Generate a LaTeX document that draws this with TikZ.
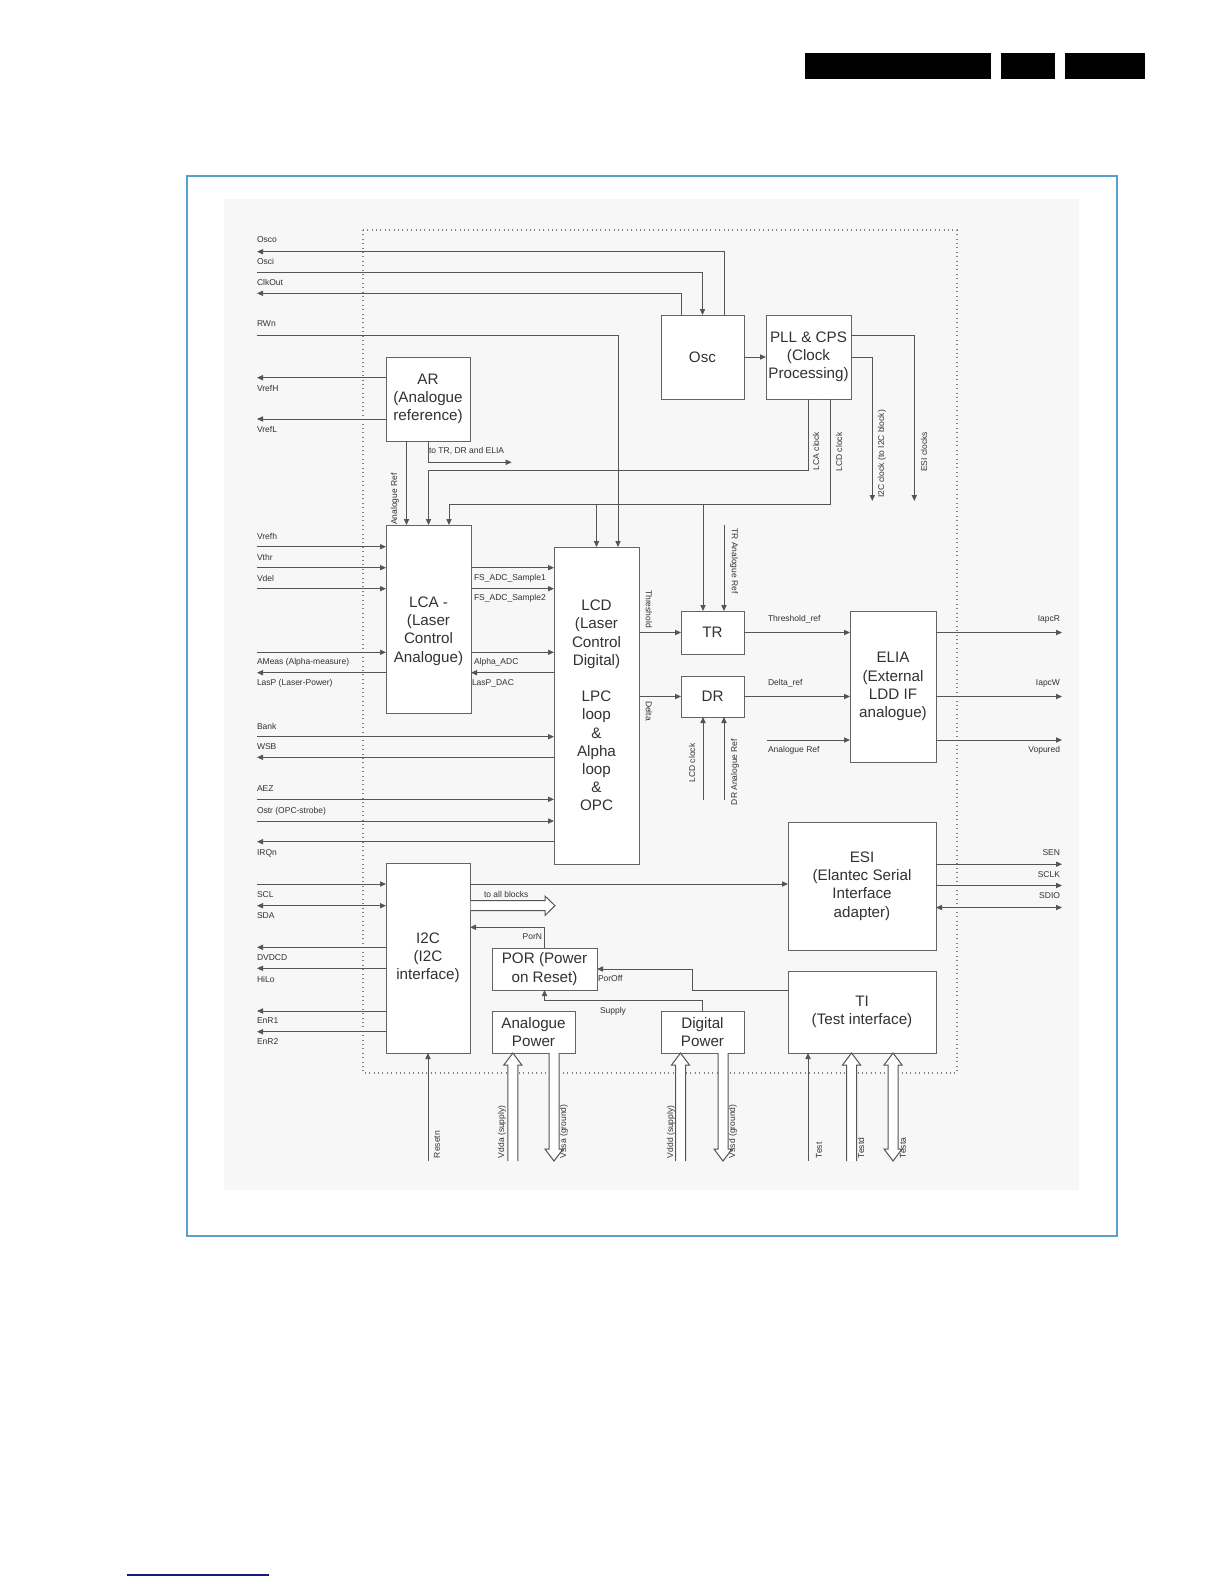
\documentclass[tikz,border=0pt]{standalone}
\usepackage{fontspec}
\setmainfont{Liberation Sans}
\usetikzlibrary{arrows.meta,calc}
\definecolor{ln}{RGB}{85,85,85}
\definecolor{bx}{RGB}{100,100,100}
\definecolor{tx}{RGB}{50,50,50}
\definecolor{framec}{RGB}{90,160,205}
\definecolor{panel}{RGB}{247,247,247}
\definecolor{navy}{RGB}{25,25,120}
\newcommand{\hup}[3]{\draw[hol] (#1-5,#3) -- (#1-5,#2+12) -- (#1-9,#2+12) -- (#1,#2) -- (#1+9,#2+12) -- (#1+5,#2+12) -- (#1+5,#3);}
\newcommand{\hdown}[3]{\draw[hol] (#1-5,#2) -- (#1-5,#3-12) -- (#1-9,#3-12) -- (#1,#3) -- (#1+9,#3-12) -- (#1+5,#3-12) -- (#1+5,#2);}
\newcommand{\hboth}[3]{\draw[hol] (#1-5,#2+12) -- (#1-9,#2+12) -- (#1,#2) -- (#1+9,#2+12) -- (#1+5,#2+12) -- (#1+5,#3-12) -- (#1+9,#3-12) -- (#1,#3) -- (#1-9,#3-12) -- (#1-5,#3-12) -- cycle;}
\begin{document}
\begin{tikzpicture}[x=0.5pt,y=-0.5pt, line width=0.5pt,
  box/.style={draw=bx, line width=0.5pt, fill=white, inner sep=0pt, outer sep=0pt, align=center, text=tx, font=\fontsize{7.6}{9.1}\selectfont},
  boxtxt/.style={inner sep=0pt, outer sep=0pt, align=center, text=tx, font=\fontsize{7.6}{9.1}\selectfont},
  lbl/.style={font=\fontsize{4.25}{5}\selectfont, text=tx, inner sep=0pt, outer sep=0pt},
  arr/.style={draw=ln, -{Triangle[length=3pt,width=2.6pt]}},
  darr/.style={draw=ln, {Triangle[length=3pt,width=2.6pt]}-{Triangle[length=3pt,width=2.6pt]}},
  hol/.style={draw=ln, line width=0.5pt, fill=white}]
\useasboundingbox (0,0) rectangle (1224,1584);
\fill[white] (0,0) rectangle (1224,1584);
% header bars
\fill[black] (805,53) rectangle (991,79);
\fill[black] (1001,53) rectangle (1055,79);
\fill[black] (1065,53) rectangle (1145,79);
\draw[navy, line width=1pt] (127,1575) -- (269,1575);
% frame and panel
\draw[framec, line width=0.6pt] (187,176) rectangle (1117,1236);
\fill[panel] (224,199) rectangle (1079,1190);
\draw[gray, line width=0.7pt, dash pattern=on 0.5pt off 1.7pt] (363,230) rectangle (957,1073);

% boxes
\node[box, minimum width=42pt, minimum height=42pt] (ar) at (428,399) {AR\\(Analogue\\reference)};
\node[box, minimum width=41.5pt, minimum height=42pt] (osc) at (702.5,357) {Osc};
\node[box, minimum width=42.5pt, minimum height=42pt] (pll) at (808.5,357) {PLL \& CPS\\(Clock\\Processing)};
\node[box, minimum width=42.5pt, minimum height=94pt] (lca) at (428.5,619) {};
\node[boxtxt] (lcatxt) at ($(lca.center)+(0,12)$) {LCA -\\(Laser\\Control\\Analogue)};
\node[box, minimum width=42.5pt, minimum height=158.5pt] (lcd) at (596.5,705.5) {LCD\\(Laser\\Control\\Digital)\\[9.1pt]LPC\\loop\\\&\\Alpha\\loop\\\&\\OPC};
\node[box, minimum width=31.5pt, minimum height=21.5pt] (tr) at (712.5,632.5) {TR};
\node[box, minimum width=31.5pt, minimum height=20.5pt] (dr) at (712.5,696.5) {DR};
\node[box, minimum width=43pt, minimum height=75.5pt] (elia) at (893,686.5) {ELIA\\(External\\LDD IF\\analogue)};
\node[box, minimum width=74pt, minimum height=64pt] (esi) at (862,886) {ESI\\(Elantec Serial\\Interface\\adapter)};
\node[box, minimum width=74pt, minimum height=41pt] (ti) at (862,1012) {TI\\(Test interface)};
\node[box, minimum width=42pt, minimum height=95pt] (i2c) at (428,958) {I2C\\(I2C\\interface)};
\node[box, minimum width=52.5pt, minimum height=21pt] (por) at (544.5,969) {POR (Power\\on Reset)};
\node[box, minimum width=41.5pt, minimum height=21pt] (apow) at (533.5,1032) {Analogue\\Power};
\node[box, minimum width=41.5pt, minimum height=21pt] (dpow) at (702.5,1032) {Digital\\Power};

% free ends
\coordinate (osco) at (257,251.7);
\coordinate (osci) at (257,272.3);
\coordinate (clkout) at (257,293.3);
\coordinate (rwn) at (257,335.7);
\coordinate (vrefH) at (257,377.7);
\coordinate (vrefL) at (257,419);
\coordinate (toTR) at (511.7,462.3);
\coordinate (esiclk) at (914.3,501);
\coordinate (i2cclk) at (872.3,501);
\coordinate (lcdbus) at (0,504.3);
\coordinate (vrefh) at (257,546.7);
\coordinate (vthr) at (257,567.7);
\coordinate (vdel) at (257,588.7);
\coordinate (ameas) at (257,652.3);
\coordinate (lasp) at (257,672.7);
\coordinate (bank) at (257,736.7);
\coordinate (wsb) at (257,757.3);
\coordinate (aez) at (257,799.3);
\coordinate (ostr) at (257,821);
\coordinate (irqn) at (257,841.7);
\coordinate (scl) at (257,884);
\coordinate (sda) at (257,905.7);
\coordinate (dvdcd) at (257,947.3);
\coordinate (hilo) at (257,968.3);
\coordinate (enr1) at (257,1011);
\coordinate (enr2) at (257,1031.7);
\coordinate (arefE) at (767,740);
\coordinate (iapcR) at (1062,632.5);
\coordinate (iapcW) at (1062,696.5);
\coordinate (vopu) at (1062,740);
\coordinate (sen) at (1062,864.2);
\coordinate (sclk) at (1062,885.5);
\coordinate (sdio) at (1062,907.5);
\coordinate (porNy) at (0,927.3);
\coordinate (porOffY) at (0,990);
\coordinate (trL) at ($(tr.north)+(-9.5,0)$);
\coordinate (trR) at ($(tr.north)+(11.5,0)$);
\coordinate (drL) at ($(dr.south)+(-9.5,0)$);
\coordinate (drR) at ($(dr.south)+(11.5,0)$);
\coordinate (lcaR) at ($(lca.north)+(20.5,0)$);
\coordinate (arRef) at ($(ar.south)+(-21.5,0)$);
\coordinate (resetn) at ($(i2c.south)+(0,108)$);
\coordinate (testp) at (808,1161);

% top lines
\draw[arr] (osc.north) ++(21.5,0) |- (osco);
\draw[arr] (osci) -| (osc.north);
\draw[arr] (osc.north) ++(-21.5,0) |- (clkout);
\draw[arr] (rwn) -| ($(lcd.north)+(21.5,0)$);
\draw[arr] (osc) -- (pll);
\draw[arr] ($(pll.east)+(0,-21.3)$) -| (esiclk);
\draw[arr] (pll.east) -| (i2cclk);
\draw[arr] (pll.south) -- ++(0,71.7) -| (lca.north);
\draw[arr] ($(pll.south)+(21.5,0)$) |- (lcaR |- lcdbus) -- (lcaR);
\draw[arr] (lcd.north |- lcdbus) -- (lcd.north);
\draw[arr] (trL |- lcdbus) -- (trL);
\draw[arr] ($(trR)+(0,-86)$) -- (trR);
\draw[arr] ($(drL)+(0,83)$) -- (drL);
\draw[arr] ($(drR)+(0,83)$) -- (drR);

% AR
\draw[arr] (ar.west |- vrefH) -- (vrefH);
\draw[arr] (ar.west |- vrefL) -- (vrefL);
\draw[arr] (arRef) -- (arRef |- lca.north);
\draw[arr] (ar.south) -- ++(0,21.3) -- (toTR);

% LCA
\draw[arr] (vrefh) -- (vrefh -| lca.west);
\draw[arr] (vthr) -- (vthr -| lca.west);
\draw[arr] (vdel) -- (vdel -| lca.west);
\draw[arr] (lca.east |- vthr) -- (lcd.west |- vthr);
\draw[arr] (lca.east |- vdel) -- (lcd.west |- vdel);
\draw[arr] (ameas) -- (ameas -| lca.west);
\draw[arr] (lca.east |- ameas) -- (lcd.west |- ameas);
\draw[arr] (lca.west |- lasp) -- (lasp);
\draw[arr] (lcd.west |- lasp) -- (lca.east |- lasp);

% LCD left
\draw[arr] (bank) -- (bank -| lcd.west);
\draw[arr] (lcd.west |- wsb) -- (wsb);
\draw[arr] (aez) -- (aez -| lcd.west);
\draw[arr] (ostr) -- (ostr -| lcd.west);
\draw[arr] (lcd.west |- irqn) -- (irqn);

% TR / DR / ELIA
\draw[arr] (lcd.east |- tr.west) -- (tr.west);
\draw[arr] (lcd.east |- dr.west) -- (dr.west);
\draw[arr] (tr.east) -- (tr.east -| elia.west);
\draw[arr] (dr.east) -- (dr.east -| elia.west);
\draw[arr] (arefE) -- (arefE -| elia.west);
\draw[arr] (elia.east |- iapcR) -- (iapcR);
\draw[arr] (elia.east |- iapcW) -- (iapcW);
\draw[arr] (elia.east |- vopu) -- (vopu);

% I2C
\draw[arr] (scl) -- (scl -| i2c.west);
\draw[darr] (sda) -- (sda -| i2c.west);
\draw[arr] (i2c.west |- dvdcd) -- (dvdcd);
\draw[arr] (i2c.west |- hilo) -- (hilo);
\draw[arr] (i2c.west |- enr1) -- (enr1);
\draw[arr] (i2c.west |- enr2) -- (enr2);
\draw[arr] (i2c.east |- scl) -- (esi.west |- scl);
\draw[hol] (470.5,900.7) -- (545,900.7) -- (545,896) -- (555,905.7) -- (545,915.4) -- (545,910.7) -- (470.5,910.7);
\draw[arr] (por.north) |- (i2c.east |- porNy);
\draw[arr] (ti.west |- porOffY) -- ++(-95.7,0) |- (por.east);
\draw[arr] (dpow.north) -- ++(0,-11) -| (por.south);

% ESI
\draw[arr] (esi.east |- sen) -- (sen);
\draw[arr] (esi.east |- sclk) -- (sclk);
\draw[darr] (esi.east |- sdio) -- (sdio);

% bottom
\draw[arr] (resetn) -- (i2c.south);
\draw[arr] (testp) -- (testp |- ti.south);
\hup{512.8}{1053}{1161}
\hdown{554}{1053}{1161}
\hup{680.5}{1053}{1161}
\hdown{723}{1053}{1161}
\hup{851.5}{1053}{1161}
\hboth{893}{1053}{1161}

% labels left
\node[lbl, anchor=west] at (257,240) {Osco};
\node[lbl, anchor=west] at (257,261) {Osci};
\node[lbl, anchor=west] at (257,282) {ClkOut};
\node[lbl, anchor=west] at (257,324) {RWn};
\node[lbl, anchor=west] at (257,388) {VrefH};
\node[lbl, anchor=west] at (257,429) {VrefL};
\node[lbl, anchor=west] at (257,536) {Vrefh};
\node[lbl, anchor=west] at (257,557) {Vthr};
\node[lbl, anchor=west] at (257,578) {Vdel};
\node[lbl, anchor=west] at (257,662) {AMeas (Alpha-measure)};
\node[lbl, anchor=west] at (257,683) {LasP (Laser-Power)};
\node[lbl, anchor=west] at (257,726) {Bank};
\node[lbl, anchor=west] at (257,747) {WSB};
\node[lbl, anchor=west] at (257,789) {AEZ};
\node[lbl, anchor=west] at (257,811) {Ostr (OPC-strobe)};
\node[lbl, anchor=west] at (257,853) {IRQn};
\node[lbl, anchor=west] at (257,895) {SCL};
\node[lbl, anchor=west] at (257,916) {SDA};
\node[lbl, anchor=west] at (257,958) {DVDCD};
\node[lbl, anchor=west] at (257,979) {HiLo};
\node[lbl, anchor=west] at (257,1021) {EnR1};
\node[lbl, anchor=west] at (257,1042) {EnR2};

% labels inner
\node[lbl, anchor=west] at (429,451) {to TR, DR and ELIA};
\node[lbl, rotate=90] at (395,499) {Analogue Ref};
\node[lbl, rotate=90] at (816,451) {LCA clock};
\node[lbl, rotate=90] at (839,452) {LCD clock};
\node[lbl, rotate=90] at (882,454) {I2C clock (to I2C block)};
\node[lbl, rotate=90] at (924,452) {ESI clocks};
\node[lbl, anchor=west] at (474,578) {FS\_ADC\_Sample1};
\node[lbl, anchor=west] at (474,598) {FS\_ADC\_Sample2};
\node[lbl, anchor=west] at (474,662) {Alpha\_ADC};
\node[lbl, anchor=west] at (472,683) {LasP\_DAC};
\node[lbl, rotate=-90] at (649,609) {Threshold};
\node[lbl, rotate=-90] at (649,711) {Delta};
\node[lbl, rotate=-90] at (734,561) {TR Analogue Ref};
\node[lbl, rotate=90] at (692,763) {LCD clock};
\node[lbl, rotate=90] at (735,772) {DR Analogue Ref};
\node[lbl, anchor=west] at (768,619) {Threshold\_ref};
\node[lbl, anchor=west] at (768,683) {Delta\_ref};
\node[lbl, anchor=west] at (768,750) {Analogue Ref};
\node[lbl, anchor=east] at (1060,619) {IapcR};
\node[lbl, anchor=east] at (1060,683) {IapcW};
\node[lbl, anchor=east] at (1060,750) {Vopured};
\node[lbl, anchor=east] at (1060,853) {SEN};
\node[lbl, anchor=east] at (1060,874.5) {SCLK};
\node[lbl, anchor=east] at (1060,896) {SDIO};
\node[lbl, anchor=west] at (484,894) {to all blocks};
\node[lbl, anchor=east] at (542,937) {PorN};
\node[lbl, anchor=west] at (598,978) {PorOff};
\node[lbl] at (613,1011) {Supply};

% labels bottom
\node[lbl, rotate=90, anchor=west] at (437,1158) {Resetn};
\node[lbl, rotate=90, anchor=west] at (502,1158) {Vdda (supply)};
\node[lbl, rotate=90, anchor=west] at (564,1158) {Vssa (ground)};
\node[lbl, rotate=90, anchor=west] at (671,1158) {Vddd (supply)};
\node[lbl, rotate=90, anchor=west] at (733,1158) {Vssd (ground)};
\node[lbl, rotate=90, anchor=west] at (819,1158) {Test};
\node[lbl, rotate=90, anchor=west] at (861,1158) {Testd};
\node[lbl, rotate=90, anchor=west] at (903,1158) {Testa};
\end{tikzpicture}
\end{document}
